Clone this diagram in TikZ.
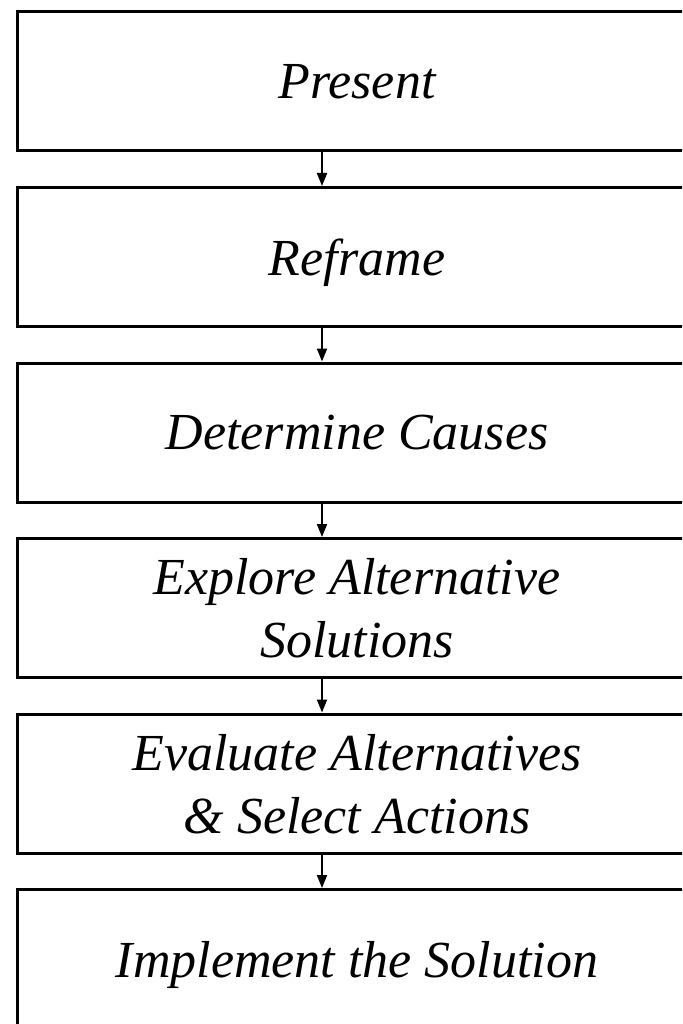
\documentclass[tikz,border=0pt]{standalone}
\usepackage{fontspec}
\setmainfont{Liberation Serif}
\usetikzlibrary{positioning,arrows.meta}
\tikzset{
	stage/.style={draw=black, line width=3pt, minimum width=680pt, minimum height=139pt,
		inner sep=0pt, text depth=0pt, align=center, font=\fontsize{52}{63}\selectfont\itshape},
	flow/.style={black, line width=2pt, -{Triangle[length=13pt,width=10pt]}}
}
\begin{document}
\begin{tikzpicture}[x=1pt,y=-1pt, node distance=33.5pt]
	\useasboundingbox (0,0) rectangle (682,1024);
	\clip (0,0) rectangle (682,1024);
	\node[stage] (present) at (357,81.5) {Present};
	\node[stage, below=of present] (reframe) {Reframe};
	\node[stage, below=of reframe] (causes) {Determine Causes};
	\node[stage, below=of causes] (explore) {Explore Alternative\\Solutions};
	\node[stage, below=of explore] (evaluate) {Evaluate Alternatives\\\& Select Actions};
	\node[stage, below=of evaluate] (implement) {Implement the Solution};
	% arrows sit left of the box centres
	\coordinate (ax) at (322,0);
	\draw[flow] (present.south -| ax) -- (reframe.north -| ax);
	\draw[flow] (reframe.south -| ax) -- (causes.north -| ax);
	\draw[flow] (causes.south -| ax) -- (explore.north -| ax);
	\draw[flow] (explore.south -| ax) -- (evaluate.north -| ax);
	\draw[flow] (evaluate.south -| ax) -- (implement.north -| ax);
\end{tikzpicture}
\end{document}
